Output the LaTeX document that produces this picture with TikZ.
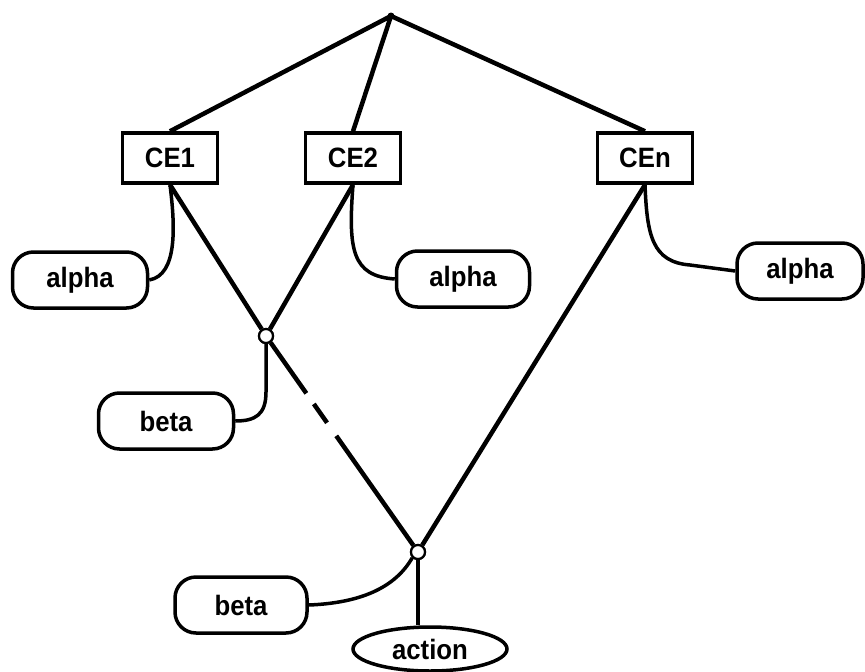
\documentclass[tikz,border=0pt]{standalone}
\usepackage{fontspec}
\setmainfont[FakeStretch=0.92]{Liberation Sans}
\usetikzlibrary{shapes.geometric}
\begin{document}
\begin{tikzpicture}[x=1pt,y=-1pt,
  every node/.style={font=\fontsize{28}{28}\selectfont\bfseries},
  cebox/.style={draw,line width=3.5pt,minimum width=95pt,minimum height=50pt,inner sep=0pt},
  oval/.style={draw,line width=3.5pt,rounded corners=21pt,minimum height=56pt,inner sep=0pt},
  joint/.style={draw,circle,line width=2.2pt,fill=white,minimum size=14pt,inner sep=0pt},
  link/.style={line width=4.5pt},
  tie/.style={line width=3.5pt}]
\useasboundingbox (0,0) rectangle (865,672);

% root and condition elements
\coordinate (root) at (391,16);
\node[cebox] (ce1) at (170,158) {CE1};
\node[cebox] (ce2) at (353,158) {CE2};
\node[cebox] (cen) at (645,158) {CEn};

% alpha memories
\node[oval,minimum width=135pt] (a1) at (80,280) {alpha};
\node[oval,minimum width=133pt] (a2) at (463,279) {alpha};
\node[oval,minimum width=126pt] (a3) at (800,271) {alpha};

% join nodes
\node[joint] (j1) at (266,336) {};
\node[joint] (j2) at (418,552) {};

% beta memories and action
\node[oval,minimum width=135pt] (b1) at (166,421) {beta};
\node[oval,minimum width=132pt] (b2) at (241,605) {beta};
\node[draw,ellipse,line width=3.5pt,minimum width=154pt,minimum height=44pt,inner sep=0pt] (act) at (430,649) {action};

% tree edges from the root
\draw[link] (root) -- (ce1.north);
\draw[link] (root) -- (ce2.north);
\draw[link] (root) -- (cen.north);
\fill (root) circle (3.5pt);

% network edges
\draw[link] (ce1.south) -- (j1);
\draw[link] (ce2.south) -- (j1);
\draw[link] (cen.south) -- (j2);
\draw[link,dash pattern=on 62pt off 13pt on 23pt off 16pt on 400pt off 0pt] (j1) -- (j2);

% ties to the memories
\draw[tie] (ce1.south) .. controls (175,225) and (178,275) .. (a1.east);
\draw[tie] (ce2.south) .. controls (348,250) and (352,276) .. (a2.west);
\draw[tie] (cen.south) .. controls (647,235) and (652,262) .. (690,265) -- (a3.west);
\draw[tie] (j1.south) -- (266,392) .. controls (266,415) and (255,421) .. (b1.east);
\draw[tie] (j2.south west) .. controls (395,588) and (360,603) .. (b2.east);
\draw[tie] (j2.south) -- (j2.south |- act.north);

% redraw joints on top of the edges
\node[joint] at (j1) {};
\node[joint] at (j2) {};
\end{tikzpicture}
\end{document}
